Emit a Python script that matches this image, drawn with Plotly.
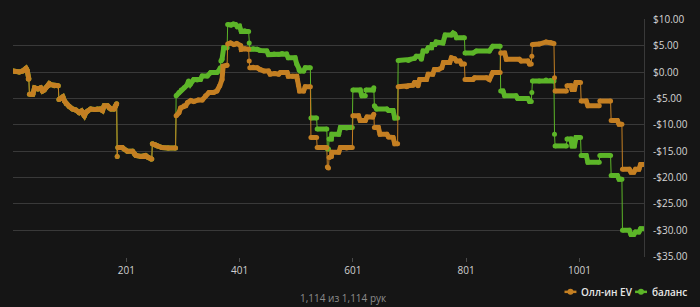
import plotly.graph_objects as go

# ---------------- data ----------------
# hands 1..288: both series identical
shared_hands = [1, 6, 12, 18, 22, 24, 26, 28, 29, 30, 36, 39, 45, 50, 53, 56, 59, 63, 65, 68, 74, 81,
                82, 86, 89, 92, 95, 100, 106, 112, 118, 122, 125, 127, 130, 133, 138, 145, 150, 155, 159,
                162, 168, 171, 174, 179, 182, 184,
                185, 186, 194, 197, 203, 212, 216, 218, 227, 235, 240, 245, 246,
                247, 252, 256, 264, 275, 288]
shared_vals = [0.2, 0.1, 0.0, 0.2, 0.4, 0.7, 0.3, -1.3, -1.3, -4.2, -4.2, -3.0, -3.2, -3.0, -3.6, -3.4, -3.0, -2.6, -2.2, -2.4, -2.6, -2.6,
               -5.2, -5.0, -4.7, -5.5, -6.0, -6.5, -7.0, -7.2, -7.7, -7.4, -8.0, -8.3, -7.6, -7.4, -7.0, -7.1, -7.0, -7.0, -7.3,
               -6.4, -6.4, -6.8, -7.0, -7.0, -6.5, -6.0,
               -16.0, -14.3, -14.3, -14.6, -15.0, -15.0, -15.6, -15.8, -16.0, -15.8, -16.2, -16.5, -16.5,
               -13.6, -13.8, -14.0, -14.3, -14.4, -14.4]

ev_hands = [289, 294, 297, 303, 306, 309, 315, 320, 328, 335, 341, 347, 355, 361, 366, 370, 372, 378, 379,
            380, 385, 391, 396, 403, 404, 410, 417,
            418, 419, 425, 432, 437, 444, 452, 455, 463, 470, 473, 485, 487, 495, 502, 503, 505, 507, 514, 517, 526,
            527, 537, 538, 555, 556, 558, 559, 563, 564, 576, 579, 590, 600,
            601, 611, 614, 623, 626, 636, 638,
            639, 646, 649, 661, 664, 672, 675, 680,
            681, 696, 699, 707, 710, 713, 716, 719, 731, 734, 742, 745, 752, 758, 761, 772, 775, 781, 784, 790, 793, 798,
            799, 813, 816, 837, 842, 848, 861,
            862, 869, 872, 895, 898, 910, 913, 916, 917, 918, 930, 942, 950, 956,
            957, 958, 978, 979, 986, 988, 992, 995, 1003,
            1004, 1013, 1016, 1036, 1037, 1056,
            1057, 1068, 1071, 1076,
            1077, 1089, 1092, 1097, 1100, 1106, 1109, 1114]
ev_vals = [-8.3, -7.7, -6.8, -6.4, -6.4, -5.8, -5.4, -5.6, -5.3, -5.3, -4.5, -3.9, -3.9, -3.6, -2.6, -1.4, 1.1, 1.3, 1.3,
           5.3, 5.5, 5.2, 5.4, 5.0, 4.3, 4.4, 4.3,
           2.1, 0.8, 0.9, 0.8, 0.5, 0.2, 0.2, -0.4, -0.3, -0.4, -0.1, -0.1, -0.8, -0.8, -0.8, -1.4, -2.5, -3.6, -3.6, -2.8, -2.8,
           -12.4, -12.4, -14.3, -14.3, -18.0, -18.2, -16.2, -16.0, -15.2, -15.2, -14.3, -14.4, -14.3,
           -8.3, -8.3, -9.2, -9.2, -8.5, -8.5, -8.0,
           -10.5, -10.5, -11.8, -11.8, -12.3, -12.4, -13.6, -13.6,
           -2.8, -2.8, -2.6, -2.5, -2.0, -2.0, -2.6, -1.4, -1.4, -0.4, -0.4, 0.5, 0.5, 0.8, 1.8, 1.8, 2.7, 2.5, 2.1, 2.1, 1.5, 1.5,
           -1.4, -1.4, -1.1, -1.1, -1.4, -0.1, -0.1,
           3.6, 3.6, 2.4, 2.4, 2.1, 2.1, 1.5, 1.5, 3.0, 5.2, 5.3, 5.7, 5.6, 5.4,
           -1.1, -3.6, -3.6, -2.6, -2.6, -3.3, -3.3, -2.0, -2.0,
           -5.5, -5.5, -6.4, -6.4, -5.5, -5.5,
           -9.2, -9.2, -9.9, -9.9,
           -18.4, -18.4, -19.0, -19.0, -18.4, -18.4, -17.5, -17.5]

bal_hands = [289, 294, 298, 303, 308, 311, 314, 320, 326, 332, 335, 344, 350, 361, 364, 367, 368, 370, 373, 379,
             380, 386, 390, 394, 397, 401, 404, 410, 417,
             418, 419, 425, 432, 437, 449, 452, 462, 470, 476, 484, 487, 499, 502, 506, 508, 514, 517, 526,
             527, 537, 538, 555, 556, 558, 559, 563, 564, 576, 579, 590, 600,
             601, 614, 617, 623, 624, 637, 638,
             639, 643, 661, 664, 672, 675, 680,
             681, 699, 702, 710, 713, 719, 722, 725, 731, 734, 740, 741, 746, 748, 752, 760, 764, 775, 778, 781, 784, 798,
             799, 813, 819, 842, 848, 861,
             862, 866, 869, 889, 892, 910, 913, 916, 917, 918, 930, 942, 950, 956,
             957, 958, 978, 979, 986, 988, 992, 995, 1003,
             1004, 1013, 1016, 1036, 1037, 1056,
             1057, 1068, 1071, 1076,
             1077, 1089, 1092, 1097, 1100, 1106, 1109, 1114]
bal_vals = [-4.5, -3.9, -3.4, -3.0, -2.5, -1.7, -2.3, -1.4, -1.5, -1.4, -0.75, -0.75, -0.1, -0.1, 0.2, 0.8, 2.1, 2.4, 4.6, 4.6,
            9.0, 8.9, 9.1, 9.0, 8.6, 8.7, 7.7, 7.8, 7.7,
            5.5, 4.3, 4.4, 4.3, 4.1, 4.0, 3.3, 3.4, 3.3, 3.5, 3.4, 2.7, 2.7, 1.5, 0.4, 0.2, 0.2, 0.8, 0.8,
            -8.7, -8.7, -10.8, -10.8, -14.6, -14.6, -12.7, -12.7, -11.8, -11.8, -10.5, -10.6, -10.5,
            -3.4, -3.4, -4.5, -4.5, -3.4, -3.4, -3.0,
            -6.4, -7.0, -7.0, -7.3, -7.3, -8.7, -8.7,
            2.2, 2.2, 2.4, 2.6, 3.0, 3.0, 2.4, 4.0, 4.0, 4.6, 4.6, 5.2, 5.2, 5.7, 5.6, 5.5, 7.0, 7.0, 7.4, 7.2, 6.5, 6.5,
            3.6, 3.6, 4.0, 4.0, 4.9, 4.9,
            -3.6, -3.6, -4.5, -4.5, -5.0, -5.0, -5.6, -5.6, -3.9, -1.7, -1.7, -1.5, -1.6, -1.7,
            -11.8, -14.0, -14.0, -12.7, -12.7, -14.0, -14.0, -12.4, -12.4,
            -15.8, -15.8, -17.1, -17.1, -15.8, -15.8,
            -19.6, -19.6, -20.3, -20.3,
            -30.0, -30.0, -30.8, -30.8, -30.3, -30.3, -29.7, -29.7]

series_names = ["Олл-ин EV", "баланс"]
x_tick_vals = [201, 401, 601, 801, 1001]
y_tick_vals = [10, 5, 0, -5, -10, -15, -20, -25, -30, -35]
y_tick_text = ["$10.00", "$5.00", "$0.00", "-$5.00", "-$10.00", "-$15.00", "-$20.00", "-$25.00", "-$30.00", "-$35.00"]
footer_text = "1,114 из 1,114 рук"

# ---------------- styling ----------------
BG = "#151515"
GRID = "#393939"
ORANGE = "#c47f22"
GREEN = "#5cb528"
FONT = "Open Sans"


def band(xs, ys):
    """split a series at all-in jumps (adjacent hands, large move) so that
    the thick band is broken there and only a thin connector remains"""
    bx, by = [xs[0]], [ys[0]]
    for i in range(1, len(xs)):
        if xs[i] - xs[i - 1] <= 1 and abs(ys[i] - ys[i - 1]) >= 0.9:
            bx.append(None)
            by.append(None)
        bx.append(xs[i])
        by.append(ys[i])
    return bx, by


ev_x = shared_hands + ev_hands
ev_y = shared_vals + ev_vals
bal_x = shared_hands + bal_hands
bal_y = shared_vals + bal_vals

fig = go.Figure()
for xs, ys, col, name in [(bal_x, bal_y, GREEN, series_names[1]), (ev_x, ev_y, ORANGE, series_names[0])]:
    fig.add_trace(go.Scatter(x=xs, y=ys, mode="lines+markers", name=name,
                             line=dict(color=col, width=1), marker=dict(color=col, size=5),
                             showlegend=False, hoverinfo="skip"))
    bx, by = band(xs, ys)
    fig.add_trace(go.Scatter(x=bx, y=by, mode="lines", name=name,
                             line=dict(color=col, width=5), connectgaps=False,
                             showlegend=False, hoverinfo="skip"))

L, R, T, B = 13, 52, 18, 50
W, H = 700, 307
pw, ph = W - L - R, H - T - B


def px_x(p):
    return (p - L) / pw


def px_y(p):
    return (H - B - p) / ph


shapes = []
annotations = []
# custom legend
for (x0, col, name) in [(568, ORANGE, series_names[0]), (639, GREEN, series_names[1])]:
    yl = px_y(292)
    shapes.append(dict(type="line", xref="paper", yref="paper", x0=px_x(x0), x1=px_x(x0 + 12),
                       y0=yl, y1=yl, line=dict(color=col, width=2.5)))
    shapes.append(dict(type="circle", xref="paper", yref="paper",
                       x0=px_x(x0 + 6 - 3), x1=px_x(x0 + 6 + 3), y0=px_y(292 + 3), y1=px_y(292 - 3),
                       fillcolor=col, line=dict(color=col, width=0)))
    annotations.append(dict(text=name, xref="paper", yref="paper", x=px_x(x0 + 15), y=yl,
                            xanchor="left", yanchor="middle", showarrow=False,
                            font=dict(family=FONT, size=10, color="#e6e6e6", weight=600)))

annotations.append(dict(text=footer_text, xref="paper", yref="paper", x=px_x(346), y=px_y(298),
                        xanchor="center", yanchor="middle", showarrow=False,
                        font=dict(family=FONT, size=10, color="#8c8c8c")))

fig.update_layout(
    width=W, height=H,
    margin=dict(l=L, r=R, t=T, b=B, pad=0),
    paper_bgcolor=BG, plot_bgcolor=BG,
    showlegend=False,
    font=dict(family=FONT, size=10, color="#d6d6d6"),
    shapes=shapes, annotations=annotations,
    xaxis=dict(range=[1, 1115], tickvals=x_tick_vals, ticks="outside", ticklen=4,
               tickcolor="#4a4a4a", showgrid=False, zeroline=False, showline=False,
               tickfont=dict(family=FONT, size=10, color="#d0d0d0")),
    yaxis=dict(range=[-35.05, 10.05], side="right", tickvals=y_tick_vals, ticktext=y_tick_text,
               showgrid=True, gridcolor=GRID, gridwidth=1, zeroline=False,
               showline=True, linecolor=GRID, linewidth=1, ticks="", ticklabelstandoff=6,
               tickfont=dict(family=FONT, size=10, color="#d6d6d6")),
)

fig.write_html("out.html")
